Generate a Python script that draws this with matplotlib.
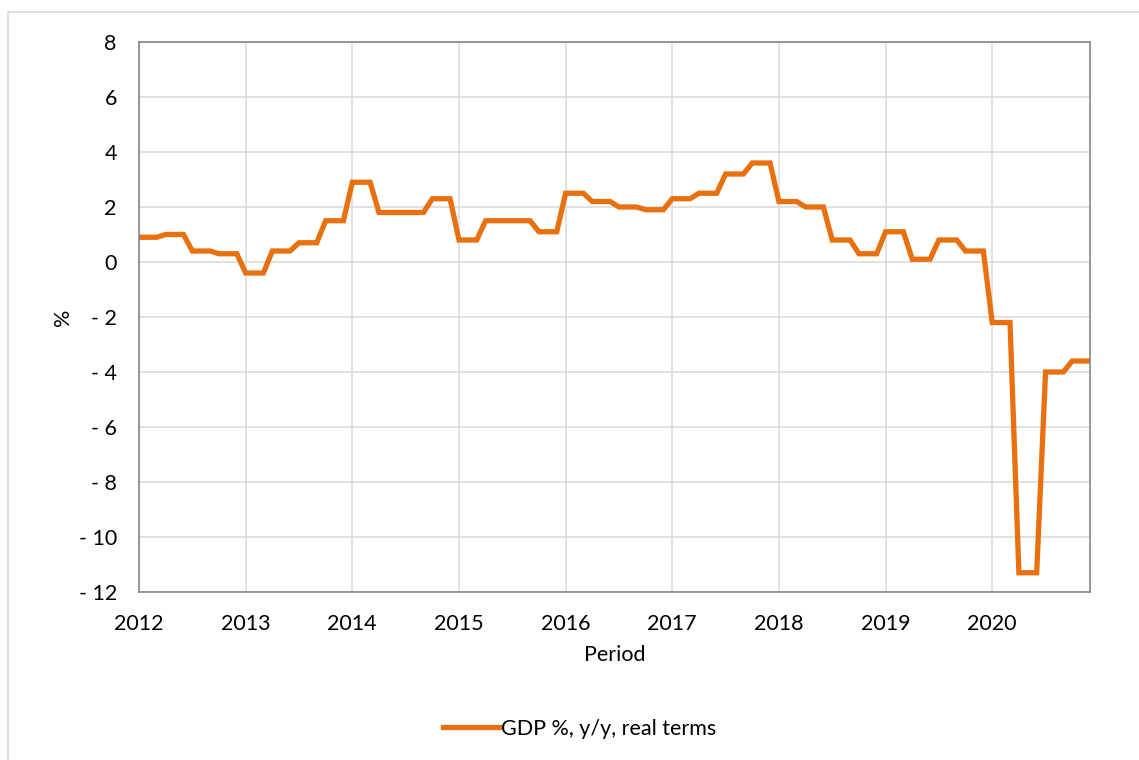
import numpy as np
import matplotlib
matplotlib.use("Agg")
import matplotlib.pyplot as plt
from matplotlib.ticker import FuncFormatter, FixedLocator
from matplotlib.lines import Line2D

# quarterly GDP growth, % y/y, real terms (each quarter shown for its 3 months)
years = [2012, 2013, 2014, 2015, 2016, 2017, 2018, 2019, 2020]
gdp_q = [0.9, 1.0, 0.4, 0.3,
         -0.4, 0.4, 0.7, 1.5,
         2.9, 1.8, 1.8, 2.3,
         0.8, 1.5, 1.5, 1.1,
         2.5, 2.2, 2.0, 1.9,
         2.3, 2.5, 3.2, 3.6,
         2.2, 2.0, 0.8, 0.3,
         1.1, 0.1, 0.8, 0.4,
         -2.2, -11.3, -4.0, -3.6]
label = "GDP %, y/y, real terms"

gdp_m = np.repeat(gdp_q, 3)
months = np.arange(len(gdp_m))

plt.rcParams['font.family'] = ['Lato', 'DejaVu Sans']
orange = '#E8700E'
fs = 15.5

fig = plt.figure(figsize=(11.39, 7.6), dpi=100)
ax = fig.add_axes([139/1139, 1-592/760, (1090-139)/1139, (592-42)/760])

ax.plot(months, gdp_m, color=orange, lw=3.8, solid_joinstyle='miter', label=label)

ax.set_xlim(0, len(gdp_m)-1)
ax.set_ylim(-12, 8)
ax.set_yticks(range(-12, 9, 2))
ax.yaxis.set_major_formatter(FuncFormatter(lambda v, p: f"- {abs(int(v))}" if v < 0 else f"{int(v)}"))
ax.xaxis.set_major_locator(FixedLocator([12*i for i in range(len(years))]))
ax.set_xticklabels([str(y) for y in years])

ax.grid(True, color='#D9D9D9', lw=1.1)
ax.set_axisbelow(True)
for s in ax.spines.values():
    s.set_color('#868686')
    s.set_linewidth(1.2)
ax.tick_params(axis='both', length=0, labelsize=fs, colors='black')
ax.tick_params(axis='y', pad=16)
ax.tick_params(axis='x', pad=16)

ax.set_xlabel("Period", fontsize=fs, labelpad=8)
ax.set_ylabel("%", fontsize=fs, labelpad=4)

fig.legend(loc='center', bbox_to_anchor=(580/1139, 1-729/760), frameon=False,
           fontsize=fs, handlelength=2.6, handletextpad=0.1)

# outer chart border (left and top only visible)
fig.add_artist(Line2D([8/1139, 8/1139], [0, 1-12/760], color='#D9D9D9', lw=1.2))
fig.add_artist(Line2D([8/1139, 1], [1-12/760, 1-12/760], color='#D9D9D9', lw=1.2))

fig.savefig("out.png", dpi=100)
